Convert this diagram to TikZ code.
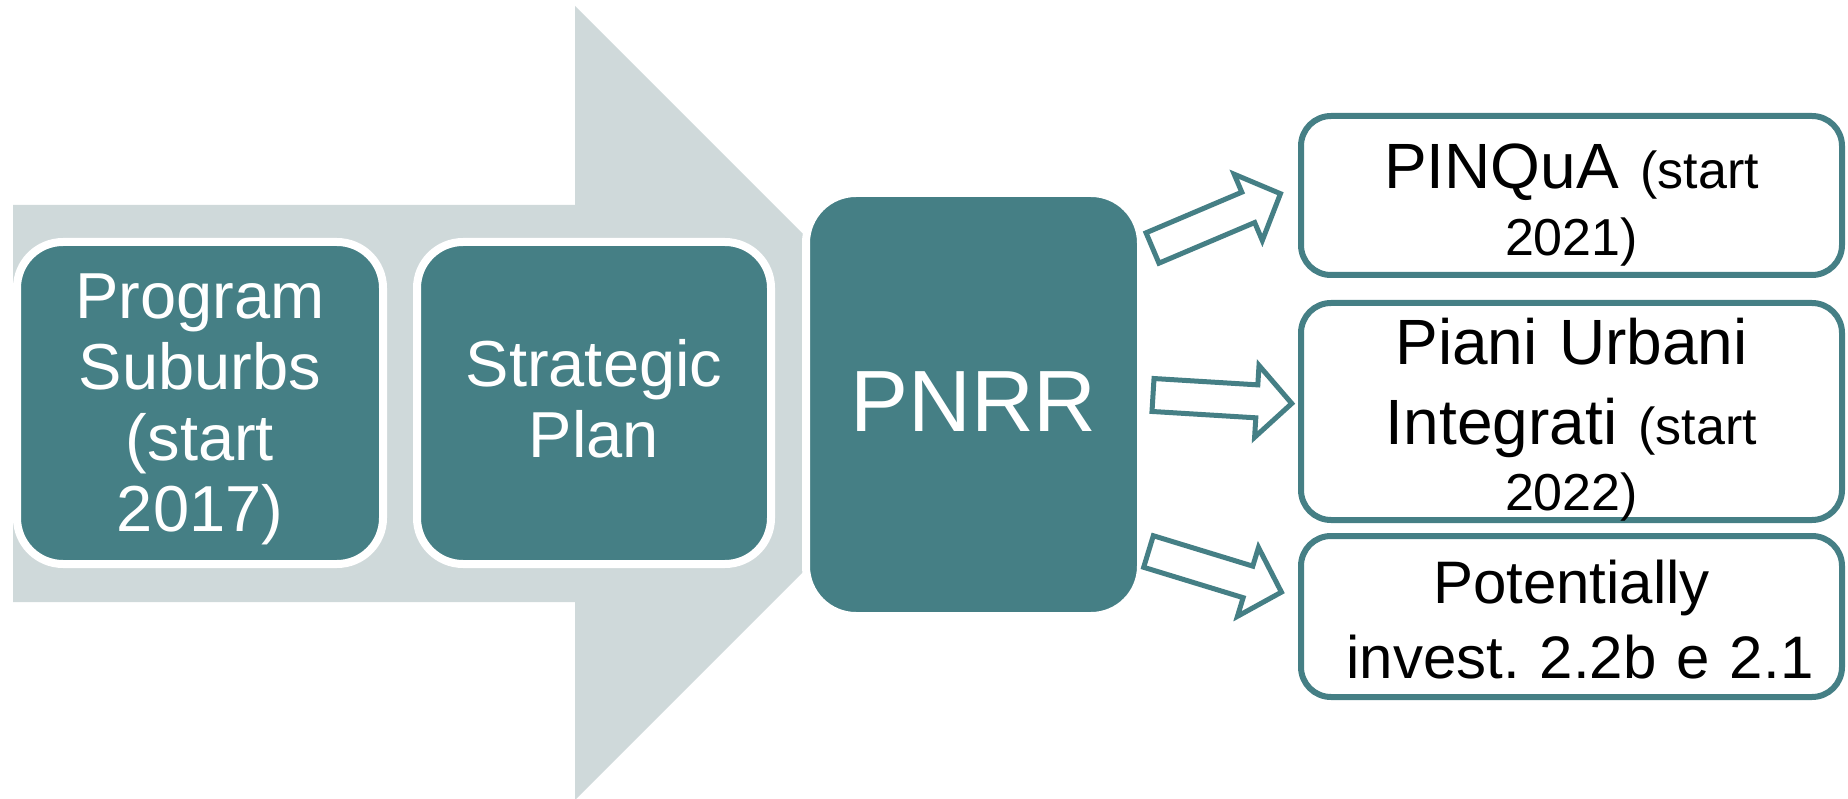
\documentclass[tikz,border=0pt]{standalone}
\usepackage{fontspec}
\setmainfont{Liberation Sans}
\frenchspacing
\definecolor{teal1}{HTML}{457F85}
\definecolor{gray1}{HTML}{CFD9DA}
\newcommand\smallpart{\fontsize{52pt}{66pt}\selectfont}
\tikzset{
  tealbox/.style={rectangle, rounded corners=46pt, fill=teal1, draw=white, line width=8pt, inner sep=0pt, outer sep=0pt},
  outbox/.style={rectangle, rounded corners=30pt, fill=white, draw=teal1, line width=6pt, inner sep=0pt, outer sep=0pt},
  hollowarr/.style={draw=teal1, fill=white, line width=5pt, line join=miter},
  lbl/.style={text width=#1, align=center, anchor=base, inner sep=0pt, outer sep=0pt},
}
\newcommand\hollowarrow[3]{%
  \begin{scope}[shift={(#1,#2)},rotate=#3]
    \draw[hollowarr] (0,-16.5) -- (104,-16.5) -- (104,-36) -- (139,0) -- (104,36) -- (104,16.5) -- (0,16.5) -- cycle;
  \end{scope}}
\begin{document}
\begin{tikzpicture}[x=1pt,y=-1pt]
\useasboundingbox (0,0) rectangle (1848,799);
% big background arrow
\fill[gray1] (13,205) -- (575,205) -- (575,6) -- (972,403) -- (575,800) -- (575,602) -- (13,602) -- cycle;
% teal boxes
\node[tealbox, minimum width=366pt, minimum height=322pt] (prog) at (200,403) {};
\node[tealbox, minimum width=354pt, minimum height=322pt] (strat) at (594,403) {};
\node[tealbox, rounded corners=50pt, minimum width=335pt, minimum height=423pt] (pnrr) at (973.5,404.5) {};
\node[lbl=366pt, text=white, font=\fontsize{65pt}{71pt}\selectfont] (progtxt) at (200,319) {Program\\Suburbs\\(start\\2017)};
\node[lbl=354pt, text=white, font=\fontsize{65pt}{71pt}\selectfont] (strattxt) at (594,387) {Strategic\\Plan};
\node[lbl=335pt, text=white, font=\fontsize{87pt}{100pt}\selectfont] (pnrrtxt) at (973.5,432) {PNRR};
% hollow arrows
\hollowarrow{1152.5}{248}{23}
\hollowarrow{1153}{395}{-3.5}
\hollowarrow{1148.5}{551.5}{-17}
% outcome boxes
\node[outbox, minimum width=541pt, minimum height=159pt] (pinq) at (1571.5,195.5) {};
\node[outbox, minimum width=541pt, minimum height=217pt] (piu) at (1571.5,411.5) {};
\node[outbox, minimum width=541pt, minimum height=161pt] (pot) at (1571.5,616.5) {};
\node[lbl=541pt, font=\fontsize{64pt}{67pt}\selectfont] (pinqtxt) at (1571.5,189) {PINQuA{\smallpart{} (start}\\{\smallpart 2021)}};
\node[lbl=541pt, font=\fontsize{64pt}{66pt}\selectfont] (piutxt) at (1571.5,365) {Piani Urbani\\[14pt]Integrati{\smallpart{} (start}\\{\smallpart 2022)}};
\node[lbl=541pt, font=\fontsize{60pt}{75pt}\selectfont] (pottxt) at (1571.5,603) {Potentially\\\hspace*{17pt}invest. 2.2b e 2.1};
\end{tikzpicture}
\end{document}
